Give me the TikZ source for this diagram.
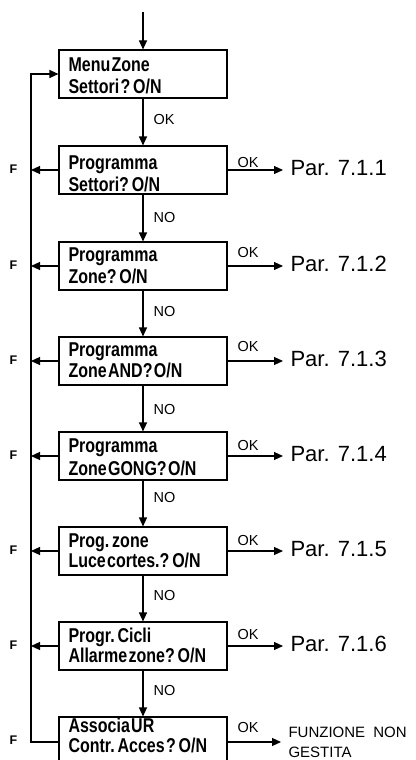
\documentclass[tikz,border=0pt]{standalone}
\usepackage{fontspec}
\setmainfont{Liberation Sans}
\newfontfamily\boxfont{Liberation Sans Bold}[FakeStretch=0.8,WordSpace=0.3]
\usetikzlibrary{arrows.meta}
\begin{document}
\begin{tikzpicture}[x=1pt,y=-1pt,
  line width=1.1pt,
  tip/.style={-{Triangle[length=9pt,width=8pt]}},
  menubox/.style={draw, minimum width=168pt, minimum height=48pt, inner sep=0pt},
  boxtext/.style={anchor=base west, inner sep=0pt, font=\boxfont\fontsize{20}{22}\selectfont},
  lbl/.style={inner sep=0pt, font=\fontsize{14.5}{16}\selectfont},
  ftext/.style={inner sep=0pt, font=\bfseries\fontsize{12.5}{13}\selectfont},
  partext/.style={anchor=west, inner sep=0pt, font=\fontsize{22}{24}\selectfont},
  endtext/.style={anchor=base west, inner sep=0pt, font=\fontsize{15}{17}\selectfont}]
\useasboundingbox (0,0) rectangle (415,760);
\clip (0,0) rectangle (415,760);

% boxes
\coordinate (start) at (143,12);
\node[menubox] (b1) at (143,74) {};
\node[menubox] (b2) at (143,170) {};
\node[menubox] (b3) at (143,266) {};
\node[menubox] (b4) at (143,361) {};
\node[menubox] (b5) at (143,456) {};
\node[menubox] (b6) at (143,551) {};
\node[menubox] (b7) at (143,646) {};
\node[menubox, minimum height=50pt] (b8) at (143,742) {};

% box texts
\node[boxtext] (t1a) at (68,71) {Menu Zone};
\node[boxtext] (t1b) at (68,93) {Settori ? O/N};
\node[boxtext] (t2a) at (68,169) {Programma};
\node[boxtext] (t2b) at (68,191) {Settori? O/N};
\node[boxtext] (t3a) at (68,261) {Programma};
\node[boxtext] (t3b) at (68,283) {Zone? O/N};
\node[boxtext] (t4a) at (68,356) {Programma};
\node[boxtext] (t4b) at (68,377) {Zone AND? O/N};
\node[boxtext] (t5a) at (68,452) {Programma};
\node[boxtext] (t5b) at (68,475) {Zone GONG? O/N};
\node[boxtext] (t6a) at (68,547) {Prog. zone};
\node[boxtext] (t6b) at (68,567) {Luce cortes.? O/N};
\node[boxtext] (t7a) at (68,642) {Progr. Cicli};
\node[boxtext] (t7b) at (68,662) {Allarme zone? O/N};
\node[boxtext] (t8a) at (68,732) {Associa UR};
\node[boxtext] (t8b) at (68,752) {Contr. Acces ? O/N};

% main vertical flow
\draw[tip] (start) -- (b1.north);
\draw[tip] (b1.south) -- (b2.north);
\draw[tip] (b2.south) -- (b3.north);
\draw[tip] (b3.south) -- (b4.north);
\draw[tip] (b4.south) -- (b5.north);
\draw[tip] (b5.south) -- (b6.north);
\draw[tip] (b6.south) -- (b7.north);
\draw[tip] (b7.south) -- (b8.north);
\node[lbl, anchor=west] (v1) at (153,120) {OK};
\node[lbl, anchor=west] (v2) at (153,218) {NO};
\node[lbl, anchor=west] (v3) at (153,312) {NO};
\node[lbl, anchor=west] (v4) at (153,410) {NO};
\node[lbl, anchor=west] (v5) at (153,498) {NO};
\node[lbl, anchor=west] (v6) at (153,596) {NO};
\node[lbl, anchor=west] (v7) at (153,690) {NO};

% right outputs
\node[partext] (p2) at (290,168) {Par. 7.1.1};
\node[partext] (p3) at (290,264) {Par. 7.1.2};
\node[partext] (p4) at (290,359) {Par. 7.1.3};
\node[partext] (p5) at (290,454) {Par. 7.1.4};
\node[partext] (p6) at (290,549) {Par. 7.1.5};
\node[partext] (p7) at (290,644) {Par. 7.1.6};
\node[endtext] (p8a) at (288,737.5) {FUNZIONE\hspace{4pt} NON};
\node[endtext] (p8b) at (288,757) {GESTITA};
\coordinate (r8) at (281,742);

\draw[tip, shorten >=7pt] (b2.east) -- (b2.east -| p2.west);
\draw[tip, shorten >=7pt] (b3.east) -- (b3.east -| p3.west);
\draw[tip, shorten >=7pt] (b4.east) -- (b4.east -| p4.west);
\draw[tip, shorten >=7pt] (b5.east) -- (b5.east -| p5.west);
\draw[tip, shorten >=7pt] (b6.east) -- (b6.east -| p6.west);
\draw[tip, shorten >=7pt] (b7.east) -- (b7.east -| p7.west);
\draw[tip] (b8.east) -- (r8);

\node[lbl, anchor=base west] (k2) at (237,167) {OK};
\node[lbl, anchor=base west] (k3) at (237,257) {OK};
\node[lbl, anchor=base west] (k4) at (237,351) {OK};
\node[lbl, anchor=base west] (k5) at (237,450) {OK};
\node[lbl, anchor=base west] (k6) at (237,545) {OK};
\node[lbl, anchor=base west] (k7) at (237,639) {OK};
\node[lbl, anchor=base west] (k8) at (237,732) {OK};

% left exits
\coordinate (f2) at (31,170);
\coordinate (f3) at (31,266);
\coordinate (f4) at (31,361);
\coordinate (f5) at (31,456);
\coordinate (f6) at (31,551);
\coordinate (f7) at (31,646);
\coordinate (fb) at (31,742);
\coordinate (ft) at (31,74);
\draw[tip] (b2.west) -- (f2);
\draw[tip] (b3.west) -- (f3);
\draw[tip] (b4.west) -- (f4);
\draw[tip] (b5.west) -- (f5);
\draw[tip] (b6.west) -- (f6);
\draw[tip] (b7.west) -- (f7);
\draw[tip] (b8.west) -- (fb) -- (ft) -- (b1.west);

\node[ftext] (F2) at (13.5,169) {F};
\node[ftext] (F3) at (13.5,265) {F};
\node[ftext] (F4) at (13.5,360) {F};
\node[ftext] (F5) at (13.5,455) {F};
\node[ftext] (F6) at (13.5,550) {F};
\node[ftext] (F7) at (13.5,645) {F};
\node[ftext] (F8) at (13.5,740) {F};
\end{tikzpicture}
\end{document}
